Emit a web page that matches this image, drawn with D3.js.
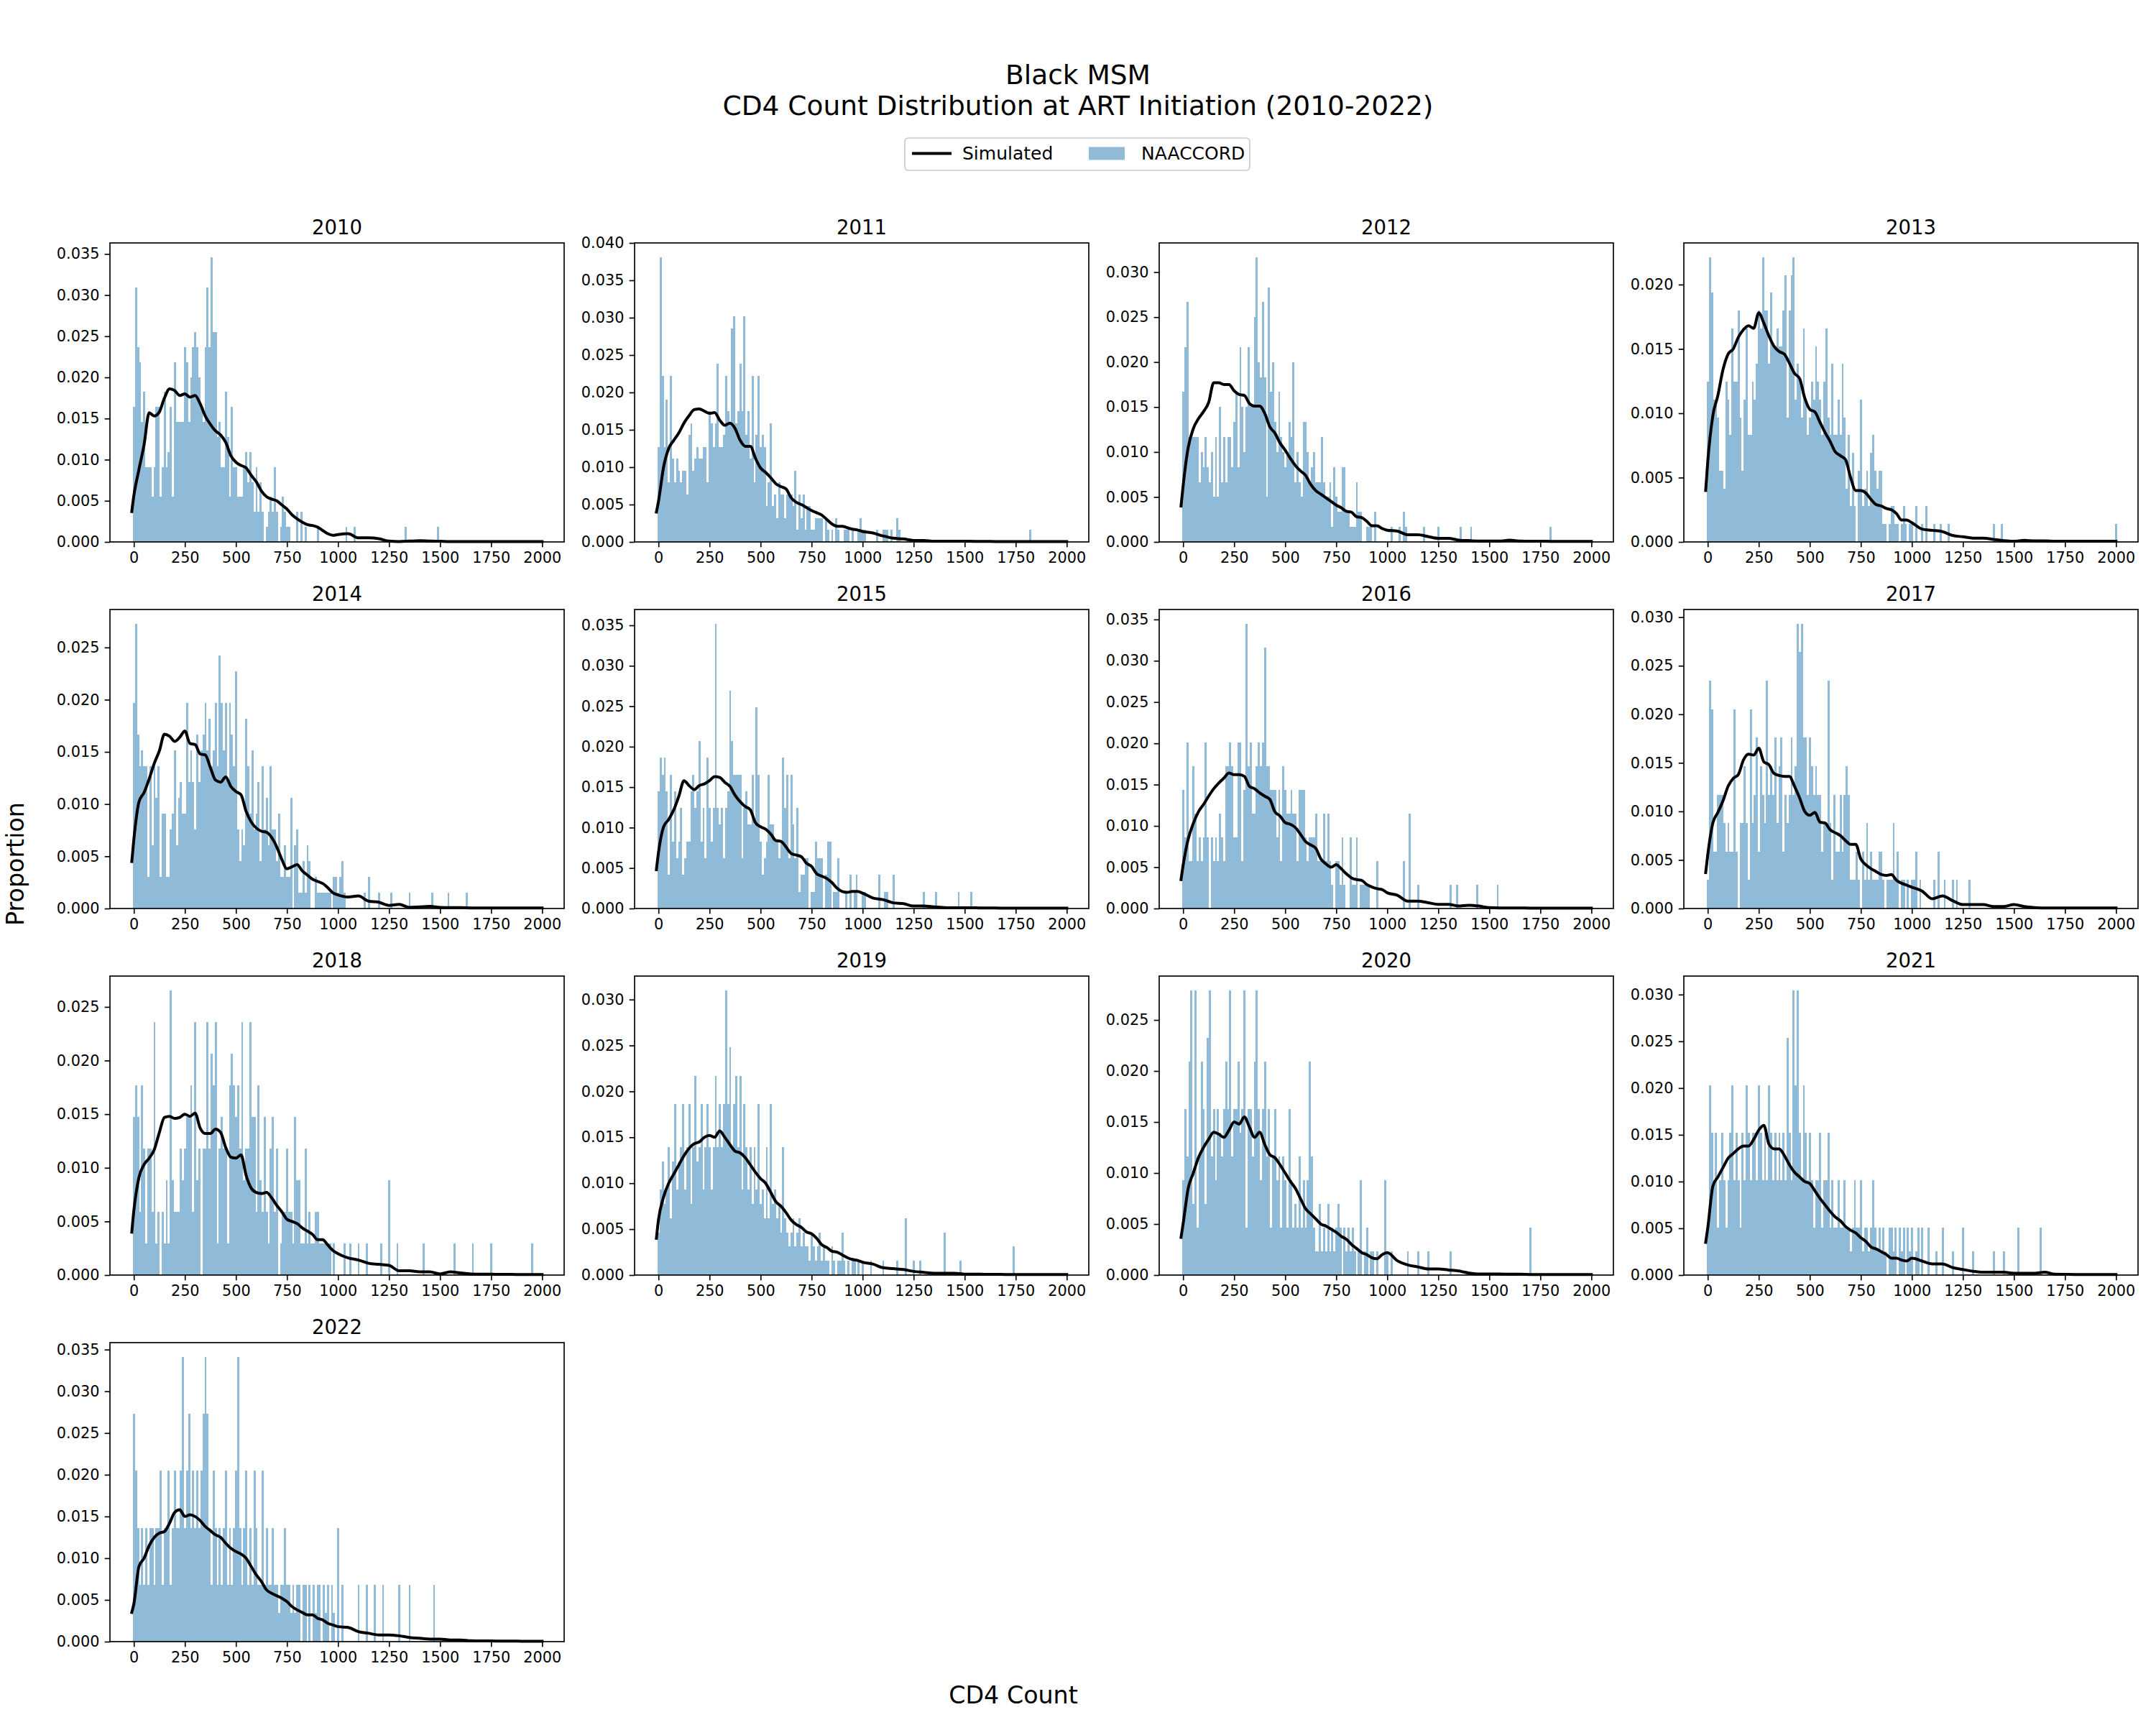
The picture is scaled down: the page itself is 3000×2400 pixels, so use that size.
<!DOCTYPE html>
<html>
<head>
<meta charset="utf-8">
<script src="https://cdn.jsdelivr.net/npm/d3@7"></script>
<style>
body { margin: 0; background: #fff; }
text { font-family: "DejaVu Sans", sans-serif; }
</style>
</head>
<body>
<svg id="chart" width="3000" height="2400"></svg>
<script>
// ---- data ----
var years = [2010, 2011, 2012, 2013, 2014, 2015, 2016, 2017, 2018, 2019, 2020, 2021, 2022];
var sampleSizes = [549, 630, 600, 723, 660, 483, 348, 341, 339, 645, 430, 394, 293]; // NAACCORD n per year
var binWidth = 10;
var xTicks = [0, 250, 500, 750, 1000, 1250, 1500, 1750, 2000];

// NAACCORD histogram counts, bins of 10 starting at 0
var counts2010 = [9,17,13,12,8,10,5,5,5,3, 5,9,9,3,5,10,5,6,9,3, 12,8,8,8,8,13,12,8,11,13, 14,13,11,9,8,13,17,13,19,14, 14,7,8,5,5,10,7,3,9,5, 5,3,3,3,5,6,4,6,4,2, 5,2,4,2,0,1,2,3,2,5, 2,0,1,3,2,1,1];
var counts2011 = [8,24,14,8,12,5,14,7,5,7, 6,5,6,6,4,9,10,6,7,8, 7,7,8,8,5,11,10,8,10,15, 8,8,9,14,11,10,18,19,10,11, 15,11,19,9,11,7,14,5,9,14, 8,9,8,3,5,10,3,4,2,5, 4,4,2,4,4,4,3,6,1,4, 2,4,1,3,3,1,1,2,2,2, 2,0,2,1,0,1,0,2,1];
var counts2012 = [10,13,16,7,7,7,7,7,4,6, 5,7,5,4,6,3,7,3,9,4, 7,4,7,7,5,8,10,5,13,9, 6,9,13,9,9,15,19,12,11,16, 11,3,17,10,12,8,6,10,7,6, 5,6,8,7,12,4,6,4,3,8, 8,6,4,5,6,4,4,4,7,4, 3,3,4,1,5,3,2,2,5,5, 2,2,1,1,1,4,2,2,0,0, 1,1,1,0,2];
var counts2013 = [9,16,14,8,8,7,4,4,3,9, 8,6,12,9,9,13,7,4,8,12, 6,6,9,8,10,13,12,16,13,13, 10,14,11,11,12,11,11,13,15,7, 13,15,16,8,10,9,7,12,8,6, 7,9,8,11,9,8,6,9,12,7, 6,10,6,6,8,6,10,7,3,6, 2,5,2,0,4,8,2,3,4,2, 5,6,4,3,4,4,1,1,0,1, 2,2,1,1,0,1,2,1,0,1, 1,0,2,0,0,1,0,2];
var counts2014 = [13,18,11,9,10,9,9,2,9,4, 9,7,9,2,6,6,2,2,5,6, 10,4,7,8,6,6,13,8,10,8, 5,11,8,10,11,13,10,12,9,10, 13,9,16,13,10,13,8,13,11,9, 15,5,3,5,4,12,9,6,10,5, 6,8,3,9,5,7,4,9,5,5, 3,6,2,2,4,2,2,7,0,4, 5,1,1,3,1,4,3,0,0,2, 1,1,1,1,1,1,1,0,2,2, 1,2,3,1];
var counts2015 = [7,9,8,9,7,2,8,4,7,3, 4,6,2,3,4,4,7,8,6,7, 10,4,6,3,9,6,4,6,17,6, 5,6,3,6,7,13,10,8,8,8, 8,3,6,7,5,5,8,5,12,8, 4,2,3,4,8,5,5,4,4,3, 4,9,6,8,3,8,5,3,6,1, 2,2,3,3,0,1,1,4,3,3, 3,0,2,4,4,0,1,1,3,0, 0,0,1,0,2,0,1,2];
var counts2016 = [5,3,7,2,2,6,4,2,3,2, 3,7,3,0,3,2,3,2,4,3, 2,6,6,7,6,3,3,7,7,2, 5,12,6,7,4,4,6,7,6,7, 11,6,6,5,5,5,3,5,2,6, 5,4,4,5,4,4,2,5,5,5, 3,2,3,3,3,4,2,2,2,4, 2,4,2,1,0,2,2,1,3,1, 0,0,3,1,1,3,0,1,1,1, 1,1];
var counts2017 = [1,8,7,2,2,4,4,4,3,2, 3,2,2,7,2,0,3,3,5,3, 1,7,3,4,6,2,5,4,3,8, 4,5,4,6,3,5,6,2,4,3, 4,6,4,5,10,9,10,6,6,4, 6,5,4,5,4,4,2,3,3,8, 3,1,4,2,2,4,2,4,5,4, 1,1,1,2,1,0,2,1,3,1, 2,1,1,1,2,2,1,0,1,1, 1,3,1,2,0,1,1,0,1,0, 1,1,2,0,1];
var counts2018 = [5,6,5,2,6,4,1,4,4,2, 8,1,2,0,2,1,3,1,9,3, 2,2,2,4,3,4,5,5,6,2, 8,3,4,0,4,4,8,4,7,6, 8,1,4,5,4,4,1,6,7,6, 5,6,4,8,3,4,4,8,5,5, 2,6,3,2,5,2,1,4,5,2, 4,0,1,2,2,4,2,2,1,5, 3,3,1,1,4,1,2,1,1,2, 2,1,1,1,1,1,1,0,1];
var counts2019 = [3,6,8,5,6,9,4,8,12,6, 8,9,12,6,9,12,5,9,14,8, 9,12,6,9,12,9,6,9,14,9, 12,9,12,20,12,16,9,12,14,9, 14,6,12,9,6,9,5,9,6,12, 5,6,4,9,4,12,5,6,4,5, 3,9,4,3,2,3,4,2,3,4, 2,3,2,2,1,3,2,1,2,3, 1,2,1,1,0,2,1,0,1,1, 3,1,0,1,0,1,1,0,1,0, 1];
var counts2020 = [4,7,5,9,12,3,12,2,5,9, 7,3,10,12,5,7,4,7,6,5, 7,9,7,12,5,7,7,9,6,7, 12,2,7,7,5,9,12,7,4,7, 9,5,7,2,5,7,4,5,2,5, 4,2,7,4,2,3,2,5,2,4, 2,4,9,5,2,1,1,3,1,2, 1,3,1,2,1,2,3,2,0,2, 1,2,1,2,1,0,1,4,0,1, 2,0,1,1,0,1,0,0,0,4, 1,0,1];
var counts2021 = [2,8,6,4,6,2,4,6,4,2, 4,6,8,4,6,4,2,6,4,8, 6,4,6,6,4,8,6,4,6,4, 8,6,4,6,4,6,4,6,4,10, 6,4,12,8,12,6,4,8,6,4, 6,4,2,4,4,6,2,4,4,6, 2,4,2,2,4,2,2,4,2,2, 1,2,4,2,2,4,1,2,2,1, 2,4,2,1,2,1,2,1,0,2, 2,1,2,0,2,1,2,0,2,1, 2,0,1,2,0,2,0,0,2];
var counts2022 = [8,6,4,2,4,2,4,2,4,4, 2,4,4,6,2,4,4,6,2,4, 6,4,4,6,10,4,6,8,4,6, 4,6,4,6,8,10,8,4,2,6, 4,2,4,2,4,6,2,4,2,4, 6,10,4,2,4,6,2,4,2,6, 4,2,2,6,2,4,2,2,4,2, 2,1,2,2,4,2,2,1,2,1, 2,2,0,2,2,0,2,0,2,1, 2,2,0,2,1,2,0,2,1,0, 4,0,2];

// sparse tail bins: [bin start, count]
var tail2010 = [[800,2],[820,2],[840,1],[900,1],[1040,1],[1080,1],[1330,1],[1490,1]];
var tail2011 = [[910,1],[920,1],[930,1],[950,1],[980,1],[990,2],[1000,1],[1010,1],[1070,1],[1100,1],[1110,1],[1120,1],[1140,1],[1170,2],[1180,1],[1820,1]];
var tail2012 = [[1020,1],[1060,1],[1080,2],[1090,1],[1180,1],[1250,1],[1360,1],[1410,1],[1800,1]];
var tail2013 = [[1110,1],[1140,1],[1180,1],[1400,1],[1440,1],[2000,1]];
var tail2014 = [[1130,1],[1150,2],[1200,1],[1260,1],[1350,1],[1460,1],[1540,1],[1630,1]];
var tail2015 = [[1000,1],[1010,1],[1080,2],[1110,1],[1120,1],[1150,2],[1300,1],[1360,1],[1470,1],[1530,1]];
var tail2016 = [[950,2],[1080,2],[1110,4],[1150,1],[1310,1],[1340,1],[1440,1],[1540,1]];
var tail2017 = [[1110,1],[1130,2],[1160,1],[1200,1],[1220,1],[1280,1]];
var tail2018 = [[1030,1],[1060,1],[1100,1],[1140,1],[1210,1],[1250,3],[1290,1],[1420,1],[1570,1],[1660,1],[1750,1],[1950,1]];
var tail2019 = [[1040,1],[1100,1],[1170,1],[1210,4],[1250,1],[1280,1],[1400,3],[1480,1],[1740,2]];
var tail2020 = [[1100,1],[1150,1],[1200,1],[1310,1],[1700,2]];
var tail2021 = [[1120,1],[1150,2],[1200,1],[1250,2],[1300,1],[1400,1],[1450,1],[1520,2],[1630,2]];
var tail2022 = [[1100,2],[1140,2],[1180,2],[1220,2],[1300,2],[1350,2],[1470,2]];

// simulated curve, sampled at simX
var simX = [-10,0,25,50,75,100,125,150,175,200,225,250,275,300,325,350,375,400,425,450,475,500,525,550,575,600,625,650,675,700,725,750,775,800,825,850,875,900,925,950,975,1000,
            1050,1100,1150,1200,1250,1300,1350,1400,1450,1500,1550,1600,1650,1700,1750,1800,1850,1900,1950,2000];
var sim2010 = [.0037,.0056,.0088,.0118,.0157,.0153,.0158,.0175,.0186,.0184,.0178,.0180,.0176,.0178,.0168,.0153,.0143,.0135,.0130,.0121,.0105,.0097,.0093,.0090,.0081,.0073,.0062,.0055,.0052,.0050,.0045,.0040,.0033,.0028,.0024,.0021,.0020,.0018,.0014,.0010,.0008,.0009,
               .0010,.0005,.0005,.0004,.0001,.00005,.0001,.00015,.0001,.00008,.00005,.00005,.00005,.00005,.00005,.00004,.00004,.00005,.00004,.00004];
var sim2011 = [.0040,.0054,.0100,.0125,.0136,.0146,.0159,.0169,.0177,.0178,.0175,.0172,.0173,.0163,.0156,.0159,.0152,.0136,.0128,.0128,.0112,.0099,.0093,.0086,.0078,.0074,.0071,.0059,.0053,.0050,.0046,.0042,.0039,.0036,.0030,.0024,.0021,.0021,.0019,.0017,.0016,.0014,
               .0012,.0008,.0005,.0004,.0002,.0002,.0001,.0001,.0001,.0001,.00008,.00008,.00006,.00006,.00005,.00005,.00005,.00005,.00005,.00005];
var sim2012 = [.0040,.0062,.0105,.0126,.0137,.0145,.0155,.0177,.0177,.0175,.0175,.0168,.0164,.0163,.0154,.0151,.0151,.0143,.0128,.0121,.0110,.0102,.0093,.0085,.0079,.0074,.0064,.0057,.0053,.0049,.0045,.0041,.0038,.0034,.0033,.0028,.0027,.0023,.0018,.0018,.0015,.0013,
               .0012,.0008,.0008,.0006,.0004,.0004,.0002,.00015,.0001,.0001,.0001,.0002,.0001,.00008,.00008,.00006,.00006,.00005,.00005,.00005];
var sim2013 = [.0040,.0062,.0098,.0114,.0134,.0146,.0150,.0159,.0165,.0168,.0166,.0178,.0170,.0160,.0152,.0148,.0146,.0139,.0131,.0127,.0112,.0103,.0101,.0093,.0085,.0078,.0070,.0067,.0064,.0050,.0040,.0040,.0038,.0033,.0029,.0028,.0026,.0025,.0022,.0017,.0017,.0015,
               .0010,.0009,.0008,.0005,.0004,.0003,.0003,.0002,.0001,.00005,.00013,.00008,.00008,.00006,.00006,.00005,.00005,.00005,.00005,.00005];
var sim2014 = [.0045,.0066,.0102,.0111,.0124,.0139,.0151,.0167,.0165,.0160,.0164,.0170,.0158,.0157,.0148,.0147,.0135,.0123,.0121,.0126,.0117,.0112,.0109,.0093,.0083,.0077,.0074,.0073,.0068,.0059,.0047,.0038,.0040,.0042,.0036,.0032,.0028,.0026,.0024,.0020,.0015,.0013,
               .0011,.0012,.0007,.0006,.0003,.0004,.0001,.00015,.0002,.0001,.00008,.00008,.00006,.00006,.00005,.00005,.00005,.00005,.00005,.00005];
var sim2015 = [.0048,.0069,.0101,.0110,.0122,.0139,.0158,.0152,.0147,.0152,.0154,.0158,.0163,.0162,.0156,.0151,.0140,.0132,.0126,.0122,.0106,.0101,.0098,.0092,.0084,.0083,.0076,.0068,.0066,.0064,.0056,.0052,.0043,.0040,.0037,.0032,.0025,.0021,.0020,.0021,.0021,.0019,
               .0013,.0011,.0007,.0006,.0003,.0003,.0002,.00012,.00008,.00008,.00008,.00006,.00006,.00005,.00005,.00005,.00005,.00005,.00005,.00005];
var sim2016 = [.0035,.0052,.0084,.0103,.0117,.0126,.0136,.0145,.0152,.0158,.0164,.0162,.0162,.0160,.0148,.0145,.0140,.0136,.0132,.0117,.0112,.0104,.0102,.0098,.0090,.0081,.0077,.0073,.0060,.0054,.0050,.0053,.0048,.0042,.0037,.0035,.0034,.0029,.0026,.0024,.0023,.0019,
               .0016,.0009,.0009,.0007,.0005,.0005,.0003,.0004,.0003,.0001,.00006,.00006,.00006,.00005,.00005,.00005,.00005,.00005,.00005,.00005];
var sim2017 = [.0037,.0055,.0088,.0099,.0111,.0126,.0134,.0138,.0153,.0159,.0158,.0165,.0151,.0148,.0139,.0137,.0136,.0136,.0126,.0114,.0100,.0096,.0099,.0089,.0088,.0081,.0078,.0075,.0070,.0066,.0066,.0051,.0045,.0041,.0038,.0035,.0034,.0035,.0029,.0026,.0024,.0022,
               .0018,.0010,.0013,.0008,.0004,.0004,.0004,.0002,.0002,.0004,.0002,.0001,.00005,.00005,.00005,.00005,.00005,.00005,.00005,.00005];
var sim2018 = [.0040,.0060,.0091,.0103,.0109,.0117,.0133,.0147,.0148,.0146,.0147,.0150,.0148,.0151,.0137,.0132,.0132,.0136,.0133,.0119,.0110,.0109,.0112,.0093,.0081,.0077,.0076,.0077,.0072,.0065,.0059,.0052,.0050,.0048,.0044,.0041,.0038,.0033,.0033,.0028,.0023,.0020,
               .0016,.0014,.0011,.0010,.0009,.0004,.0004,.0003,.0003,.0001,.0003,.0002,.0001,.00008,.00008,.00006,.00006,.00005,.00005,.00005];
var sim2019 = [.0040,.0060,.0085,.0100,.0110,.0120,.0130,.0138,.0143,.0145,.0150,.0152,.0150,.0157,.0150,.0142,.0135,.0133,.0128,.0120,.0112,.0105,.0100,.0090,.0080,.0075,.0068,.0060,.0055,.0052,.0047,.0045,.0040,.0033,.0030,.0026,.0025,.0022,.0019,.0017,.0016,.0014,
               .0012,.0008,.0007,.0006,.0004,.0003,.0002,.0002,.0002,.0001,.0001,.00008,.00008,.00006,.00006,.00005,.00005,.00005,.00005,.00005];
var sim2020 = [.0037,.0050,.0085,.0100,.0115,.0125,.0133,.0140,.0138,.0135,.0142,.0150,.0148,.0155,.0145,.0135,.0140,.0128,.0118,.0115,.0108,.0100,.0092,.0085,.0075,.0065,.0060,.0055,.0050,.0048,.0045,.0042,.0038,.0035,.0030,.0026,.0022,.0020,.0017,.0016,.0020,.0022,
               .0014,.0010,.0008,.0006,.0006,.0005,.0004,.0002,.0001,.0001,.0001,.00008,.00008,.00006,.00006,.00005,.00005,.00005,.00005,.00005];
var sim2021 = [.0035,.0050,.0095,.0105,.0115,.0125,.0130,.0135,.0138,.0138,.0145,.0155,.0160,.0140,.0135,.0135,.0128,.0118,.0110,.0105,.0100,.0098,.0090,.0082,.0075,.0068,.0062,.0058,.0052,.0048,.0045,.0040,.0036,.0030,.0028,.0025,.0022,.0018,.0018,.0016,.0015,.0018,
               .0015,.0012,.0012,.0008,.0006,.0004,.0003,.0003,.0003,.0002,.0002,.0002,.0003,.0001,.00008,.00006,.00005,.00005,.00005,.00005];
var sim2022 = [.0035,.0045,.0090,.0100,.0115,.0125,.0130,.0132,.0142,.0155,.0158,.0150,.0152,.0150,.0145,.0138,.0133,.0128,.0125,.0118,.0112,.0108,.0105,.0100,.0090,.0080,.0072,.0062,.0058,.0055,.0052,.0048,.0042,.0038,.0035,.0032,.0032,.0028,.0026,.0022,.0020,.0018,
               .0017,.0012,.0010,.0008,.0008,.0007,.0005,.0004,.0003,.0003,.0002,.0002,.0001,.00008,.00008,.00006,.00006,.00005,.00005,.00005];

var countsByYear = [counts2010,counts2011,counts2012,counts2013,counts2014,counts2015,counts2016,counts2017,counts2018,counts2019,counts2020,counts2021,counts2022];
var tailsByYear = [tail2010,tail2011,tail2012,tail2013,tail2014,tail2015,tail2016,tail2017,tail2018,tail2019,tail2020,tail2021,tail2022];
var simByYear = [sim2010,sim2011,sim2012,sim2013,sim2014,sim2015,sim2016,sim2017,sim2018,sim2019,sim2020,sim2021,sim2022];

// ---- layout ----
var W = 3000, H = 2400;
var colX = [153, 883, 1613, 2343];
var rowY = [338, 848, 1358, 1868];
var pw = 632, ph = 416;
var barColor = "#8fbbd9";   // C0 at alpha .5
var tickFont = 20.8;

var svg = d3.select("#chart");
svg.append("rect").attr("width", W).attr("height", H).attr("fill", "#fff");

years.forEach(function(yr, i) {
  var g = svg.append("g")
    .attr("transform", "translate(" + colX[i % 4] + "," + rowY[Math.floor(i / 4)] + ")");
  var n = sampleSizes[i];
  var bars = countsByYear[i].map(function(c, k) { return {x0: k * binWidth, p: c / n}; })
    .concat(tailsByYear[i].map(function(t) { return {x0: t[0], p: t[1] / n}; }))
    .filter(function(d) { return d.p > 0; });
  var sim = simByYear[i];
  var pts = simX.slice(0, sim.length).map(function(x, j) { return [x, sim[j]]; });

  var x = d3.scaleLinear().domain([-117, 2108]).range([0, pw]);
  var top = Math.max(d3.max(bars, function(d) { return d.p; }), d3.max(pts, function(d) { return d[1]; })) * 1.05;
  var y = d3.scaleLinear().domain([0, top]).range([ph, 0]);

  g.append("g").selectAll("rect").data(bars).join("rect")
    .attr("x", function(d) { return x(d.x0 - 4); })
    .attr("width", function(d) { return x(d.x0 + 6) - x(d.x0 - 4); })
    .attr("y", function(d) { return y(d.p); })
    .attr("height", function(d) { return ph - y(d.p); })
    .attr("fill", barColor)
    .attr("shape-rendering", "crispEdges");

  var line = d3.line()
    .x(function(d) { return x(d[0]); })
    .y(function(d) { return y(d[1]); })
    .curve(d3.curveMonotoneX);
  g.append("path").datum(pts)
    .attr("d", line)
    .attr("fill", "none")
    .attr("stroke", "#000")
    .attr("stroke-width", 4)
    .attr("stroke-linejoin", "round")
    .attr("stroke-linecap", "square");

  var yTicks = d3.range(0, Math.floor(top / 0.005 + 1e-6) + 1).map(function(k) { return k * 0.005; });

  var xa = g.append("g").attr("transform", "translate(0," + ph + ")")
    .call(d3.axisBottom(x).tickValues(xTicks).tickFormat(d3.format("d"))
      .tickSize(7.3).tickPadding(7.3).tickSizeOuter(0));
  var ya = g.append("g")
    .call(d3.axisLeft(y).tickValues(yTicks).tickFormat(d3.format(".3f"))
      .tickSize(7.3).tickPadding(7.3).tickSizeOuter(0));
  [xa, ya].forEach(function(a) {
    a.select(".domain").remove();
    a.attr("font-size", tickFont).attr("font-family", "DejaVu Sans, sans-serif");
    a.selectAll(".tick line").attr("stroke", "#000").attr("stroke-width", 1.67);
    a.selectAll(".tick text").attr("fill", "#000");
  });

  // spines
  g.append("rect").attr("width", pw).attr("height", ph)
    .attr("fill", "none").attr("stroke", "#000").attr("stroke-width", 1.67);

  g.append("text")
    .attr("x", pw / 2).attr("y", -12.5)
    .attr("text-anchor", "middle")
    .attr("font-size", 27.5)
    .text(yr);
});

// figure titles
svg.append("text").attr("x", 1500).attr("y", 117).attr("text-anchor", "middle")
  .attr("font-size", 37.5).text("Black MSM");
svg.append("text").attr("x", 1500).attr("y", 160).attr("text-anchor", "middle")
  .attr("font-size", 37.5).text("CD4 Count Distribution at ART Initiation (2010-2022)");

svg.append("text").attr("x", 1410).attr("y", 2370).attr("text-anchor", "middle")
  .attr("font-size", 33.3).text("CD4 Count");
svg.append("text").attr("transform", "translate(33,1202) rotate(-90)")
  .attr("text-anchor", "middle").attr("font-size", 33.3).text("Proportion");

// legend
var lg = svg.append("g").attr("transform", "translate(1259,192)");
lg.append("rect").attr("width", 480).attr("height", 45).attr("rx", 5)
  .attr("fill", "#fff").attr("fill-opacity", 0.8)
  .attr("stroke", "#cccccc").attr("stroke-width", 1.67);
lg.append("line").attr("x1", 10).attr("x2", 65).attr("y1", 21.5).attr("y2", 21.5)
  .attr("stroke", "#000").attr("stroke-width", 4);
lg.append("text").attr("x", 80).attr("y", 30).attr("font-size", 25).text("Simulated");
lg.append("rect").attr("x", 256).attr("y", 12.5).attr("width", 50).attr("height", 18).attr("fill", barColor);
lg.append("text").attr("x", 329).attr("y", 30).attr("font-size", 25).text("NAACCORD");
</script>
</body>
</html>
